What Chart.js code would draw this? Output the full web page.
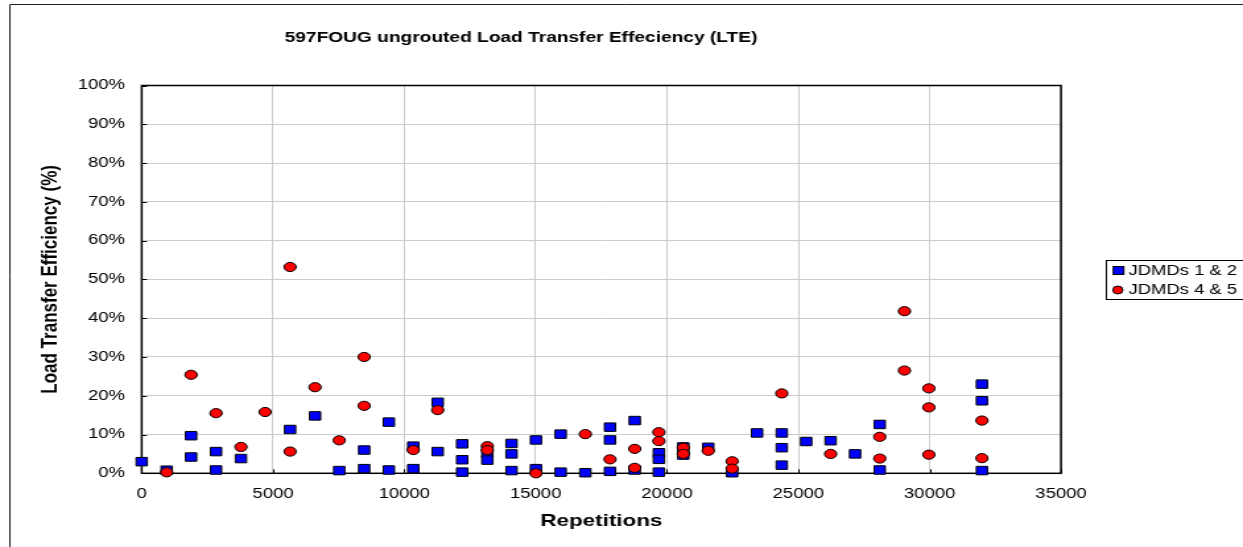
<!DOCTYPE html>
<html>
<head>
<meta charset="utf-8">
<title>597FOUG ungrouted LTE</title>
<script src="https://cdn.jsdelivr.net/npm/chart.js@4.4.1/dist/chart.umd.min.js"></script>
<style>
    html, body { margin: 0; padding: 0; background: #fff; overflow: hidden; }
    #wrap { width: 1243px; height: 547px; overflow: hidden; }
    /* the original picture is a horizontally stretched Excel chart */
    #lteChart { display: block; transform: scaleX(1.3195); transform-origin: 0 0; }
</style>
</head>
<body>
<div id="wrap"><canvas id="lteChart" width="942" height="547"></canvas></div>
<script>
// --- data ---
const chartTitle = '597FOUG ungrouted Load Transfer Effeciency (LTE)';
const xTitle = 'Repetitions';
const yTitle = 'Load Transfer Efficiency (%)';
const seriesNames = ['JDMDs 1 & 2', 'JDMDs 4 & 5'];

const xTicks = [0, 5000, 10000, 15000, 20000, 25000, 30000, 35000];
const yTicks = [0, 10, 20, 30, 40, 50, 60, 70, 80, 90, 100];

// JDMDs 1 & 2 (blue squares)
const jdmd12Reps = [0, 950, 1880, 1880, 2830, 2830, 3780, 5650, 6600, 7520,
    8470, 8470, 9410, 9410, 10340, 10340, 11270, 11270, 12200, 12200,
    12200, 13160, 13160, 14080, 14080, 14080, 15010, 15010, 15950, 15950,
    16890, 17830, 17830, 17830, 18770, 18770, 19690, 19690, 19690, 20620,
    20620, 21570, 22480, 23430, 24370, 24370, 24370, 25300, 26230, 27160,
    28100, 28100, 31990, 31990, 31990];
const jdmd12Lte = [3.0, 0.8, 9.7, 4.2, 5.6, 0.85, 3.8, 11.3, 14.8, 0.7,
    6.0, 1.2, 13.2, 0.85, 7.0, 1.2, 18.3, 5.6, 7.6, 3.5,
    0.3, 5.2, 3.4, 7.7, 5.0, 0.7, 8.6, 1.2, 10.1, 0.3,
    0.15, 11.9, 8.6, 0.5, 13.6, 0.85, 5.3, 3.6, 0.3, 6.8,
    4.7, 6.7, 0.15, 10.4, 10.4, 6.6, 2.1, 8.2, 8.4, 5.0,
    12.6, 0.85, 23.0, 18.7, 0.7];

// JDMDs 4 & 5 (red circles)
const jdmd45Reps = [950, 1880, 2830, 3780, 4700, 5650, 5650, 6600, 7520, 8470,
    8470, 10340, 11270, 13160, 13160, 15010, 16890, 17830, 18770, 18770,
    19690, 19690, 20620, 20620, 21570, 22480, 22480, 24370, 26230, 28100,
    28100, 29040, 29040, 29970, 29970, 29970, 31990, 31990];
const jdmd45Lte = [0.25, 25.4, 15.5, 6.8, 15.8, 53.2, 5.6, 22.2, 8.5, 30.0,
    17.4, 6.0, 16.3, 7.0, 6.0, 0, 10.1, 3.6, 6.3, 1.4,
    10.6, 8.3, 6.6, 5.0, 5.8, 3.1, 1.2, 20.6, 5.0, 9.4,
    3.8, 41.8, 26.5, 21.9, 17.0, 4.8, 13.6, 3.9];

// --- layout (canvas units, before the css stretch) ---
const STRETCH = 1243 / 942;
const W = 942, H = 547;
const plotLeft = 141.7 / STRETCH;
const plotRight = 1061 / STRETCH;
const plotTop = 85.5;
const plotBottom = 473.3;
const FONT = "'Liberation Sans', Arial, sans-serif";

function toPoints(xs, ys) {
    return xs.map((x, i) => ({ x: x, y: ys[i] }));
}

// white background + outer chart frame (only top and left show in the crop)
const framePlugin = {
    id: 'frame',
    beforeDraw(chart) {
        const ctx = chart.ctx;
        ctx.save();
        ctx.fillStyle = '#fff';
        ctx.fillRect(0, 0, W, H);
        ctx.strokeStyle = '#222';
        ctx.lineWidth = 1;
        ctx.beginPath();
        ctx.moveTo(7.5, H);
        ctx.lineTo(7.5, 4.5);
        ctx.lineTo(W, 4.5);
        ctx.stroke();
        ctx.restore();
    }
};

// black plot border with small inside tick marks, under the markers
const plotBorderPlugin = {
    id: 'plotBorder',
    beforeDatasetsDraw(chart) {
        const { ctx, chartArea: a, scales } = chart;
        ctx.save();
        ctx.strokeStyle = '#000';
        ctx.lineWidth = 1.5;
        ctx.strokeRect(a.left, a.top, a.right - a.left, a.bottom - a.top);
        ctx.lineWidth = 1;
        ctx.beginPath();
        xTicks.forEach(v => {
            const px = Math.round(scales.x.getPixelForValue(v)) + 0.5;
            ctx.moveTo(px, a.bottom);
            ctx.lineTo(px, a.bottom - 4);
        });
        yTicks.forEach(v => {
            const py = Math.round(scales.y.getPixelForValue(v)) + 0.5;
            ctx.moveTo(a.left, py);
            ctx.lineTo(a.left + 4, py);
        });
        ctx.stroke();
        ctx.restore();
    }
};

// chart title and the boxed legend on the right
const titleLegendPlugin = {
    id: 'titleLegend',
    afterDraw(chart) {
        const ctx = chart.ctx;
        ctx.save();
        ctx.fillStyle = '#000';
        ctx.textBaseline = 'middle';
        ctx.textAlign = 'center';
        ctx.font = 'bold 14.5px ' + FONT;
        ctx.fillText(chartTitle, 521 / STRETCH, 38);

        // legend box
        const lx = 1106 / STRETCH;
        ctx.strokeStyle = '#000';
        ctx.lineWidth = 1;
        ctx.strokeRect(Math.round(lx) + 0.5, 260.5, 200, 39);

        ctx.lineWidth = 1;
        // square marker
        ctx.fillStyle = '#0000ff';
        ctx.fillRect(lx + 5.5, 266.5, 8, 8);
        ctx.strokeRect(lx + 5.5, 266.5, 8, 8);
        // circle marker
        ctx.beginPath();
        ctx.ellipse(lx + 9, 290, 3.8, 4, 0, 0, Math.PI * 2);
        ctx.fillStyle = '#ff0000';
        ctx.fill();
        ctx.stroke();

        ctx.fillStyle = '#000';
        ctx.textAlign = 'left';
        ctx.font = '14px ' + FONT;
        ctx.fillText(seriesNames[0], lx + 17, 271);
        ctx.fillText(seriesNames[1], lx + 17, 290.5);
        ctx.restore();
    }
};

const ctx = document.getElementById('lteChart').getContext('2d');

new Chart(ctx, {
    type: 'scatter',
    data: {
        datasets: [
            {
                label: seriesNames[0],
                data: toPoints(jdmd12Reps, jdmd12Lte),
                pointStyle: 'rect',
                pointRadius: 6,
                pointHoverRadius: 6,
                backgroundColor: '#0000ff',
                borderColor: '#000',
                borderWidth: 1,
                clip: false,
                order: 1
            },
            {
                label: seriesNames[1],
                data: toPoints(jdmd45Reps, jdmd45Lte),
                pointStyle: 'circle',
                pointRadius: 4.6,
                pointHoverRadius: 4.6,
                backgroundColor: '#ff0000',
                borderColor: '#000',
                borderWidth: 1,
                clip: false,
                order: 0
            }
        ]
    },
    options: {
        responsive: false,
        animation: false,
        devicePixelRatio: 1,
        layout: {
            padding: { left: 0, top: plotTop, right: W - plotRight, bottom: 0 }
        },
        plugins: {
            legend: { display: false },
            title: { display: false },
            tooltip: { enabled: false }
        },
        scales: {
            x: {
                type: 'linear',
                min: 0,
                max: 35000,
                afterBuildTicks: s => { s.ticks = xTicks.map(v => ({ value: v })); },
                afterFit: s => { s.height = H - plotBottom; },
                ticks: {
                    padding: 12,
                    maxRotation: 0,
                    autoSkip: false,
                    color: '#000',
                    font: { family: FONT, size: 14 },
                    callback: v => String(v)
                },
                grid: { color: '#cccccc', lineWidth: 1, drawTicks: false },
                border: { display: false },
                title: {
                    display: true,
                    text: xTitle,
                    color: '#000',
                    font: { family: FONT, size: 17, weight: 'bold' },
                    padding: { top: 0, bottom: 15.3 }
                }
            },
            y: {
                min: 0,
                max: 100,
                afterBuildTicks: s => { s.ticks = yTicks.map(v => ({ value: v })); },
                afterFit: s => { s.width = plotLeft; },
                ticks: {
                    padding: 12.7,
                    color: '#000',
                    font: { family: FONT, size: 14 },
                    callback: v => v + '%'
                },
                grid: { color: '#cccccc', lineWidth: 1, drawTicks: false },
                border: { display: false },
                title: {
                    display: true,
                    text: yTitle,
                    color: '#000',
                    font: { family: FONT, size: 17, weight: 'bold' },
                    padding: { top: 28.5, bottom: 0 }
                }
            }
        }
    },
    plugins: [framePlugin, plotBorderPlugin, titleLegendPlugin]
});
</script>
</body>
</html>
